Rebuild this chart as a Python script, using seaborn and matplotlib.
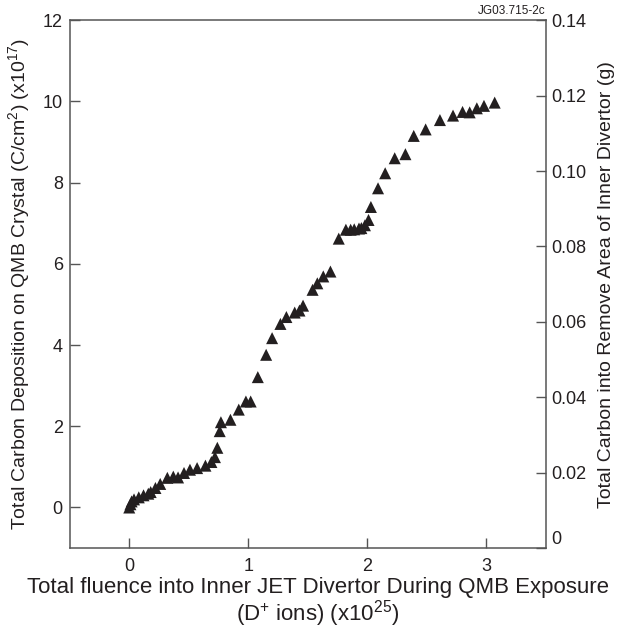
import matplotlib
matplotlib.use("Agg")
import matplotlib.pyplot as plt
import seaborn as sns
import pandas as pd

fluence = [0.0, 0.01, 0.02, 0.04, 0.08, 0.12, 0.16, 0.18, 0.22, 0.26, 0.32, 0.37, 0.41,
           0.46, 0.51, 0.57, 0.64, 0.69, 0.72, 0.74, 0.76, 0.77, 0.85, 0.92, 0.98, 1.02,
           1.08, 1.15, 1.20, 1.27, 1.32, 1.39, 1.43, 1.46, 1.54, 1.58, 1.63, 1.69,
           1.76, 1.82, 1.86, 1.89, 1.93, 1.95, 1.98, 2.01, 2.03, 2.09, 2.15, 2.23, 2.32,
           2.39, 2.49, 2.61, 2.72, 2.80, 2.86, 2.92, 2.98, 3.07]
deposition = [0.0, 0.08, 0.15, 0.2, 0.25, 0.30, 0.34, 0.38, 0.48, 0.58, 0.73, 0.76, 0.74,
              0.85, 0.93, 0.97, 1.03, 1.12, 1.24, 1.47, 1.88, 2.10, 2.16, 2.41, 2.61, 2.61,
              3.21, 3.76, 4.17, 4.52, 4.69, 4.80, 4.85, 4.97, 5.36, 5.52, 5.69, 5.81,
              6.62, 6.84, 6.84, 6.85, 6.87, 6.88, 6.95, 7.08, 7.40, 7.86, 8.23, 8.60, 8.70,
              9.15, 9.31, 9.54, 9.65, 9.74, 9.73, 9.83, 9.89, 9.97]

x_ticks = [0, 1, 2, 3]
left_ticks = [0, 2, 4, 6, 8, 10, 12]
right_ticks = [0, 0.02, 0.04, 0.06, 0.08, 0.10, 0.12, 0.14]
right_labels = ["0", "0.02", "0.04", "0.06", "0.08", "0.10", "0.12", "0.14"]

df = pd.DataFrame({"fluence": fluence, "deposition": deposition})

sns.set_style("ticks")
plt.rcParams["font.family"] = ["Liberation Sans", "DejaVu Sans"]
plt.rcParams["mathtext.fontset"] = "custom"
plt.rcParams["mathtext.rm"] = "Liberation Sans"

fig = plt.figure(figsize=(6.34, 6.30), dpi=100)
ax = fig.add_axes([0.110, 0.130, 0.751, 0.838])
ink = "#231f20"
sns.scatterplot(data=df, x="fluence", y="deposition", marker="^", s=75,
                color=ink, edgecolor="none", linewidth=0, ax=ax, legend=False)
ax.set_xlim(-0.5, 3.5)
ax.set_ylim(-1, 12)
ax.set_xticks(x_ticks)
ax.set_yticks(left_ticks)
spine_c = "#555555"
for s in ax.spines.values():
    s.set_visible(True)
    s.set_color(spine_c)
    s.set_linewidth(1.1)
ax.tick_params(direction="in", length=7, width=1, colors=spine_c, labelcolor="#231f20",
               labelsize=13)
ax.tick_params(axis="x", pad=7)
ax.tick_params(axis="y", pad=5)
ax.set_xlabel("Total fluence into Inner JET Divertor During QMB Exposure\n(D$^{+}$ ions) (x10$^{25}$)",
              fontsize=16, color=ink, linespacing=1.02)
ax.xaxis.set_label_coords(0.521, -0.055, transform=ax.transAxes)
ax.xaxis.label.set_va("top")
ax.set_ylabel("Total Carbon Deposition on QMB Crystal (C/cm$^{2}$) (x10$^{17}$)",
              fontsize=14, color=ink, labelpad=7)

ax2 = ax.twinx()
ax2.set_ylim(0, 0.14)
ax2.set_yticks(right_ticks)
ax2.set_yticklabels(right_labels)
for s in ax2.spines.values():
    s.set_visible(False)
ax2.tick_params(direction="in", length=7, width=1, colors=spine_c, labelcolor="#231f20",
                labelsize=13, pad=4)
ax2.get_yticklabels()[0].set_va("bottom")
ax2.set_ylabel("Total Carbon into Remove Area of Inner Divertor (g)", fontsize=14,
               color=ink, labelpad=8)

fig.text(0.860, 0.973, "JG03.715-2c", fontsize=8.5, ha="right", va="bottom", color=ink)

fig.savefig("out.png", dpi=100)
